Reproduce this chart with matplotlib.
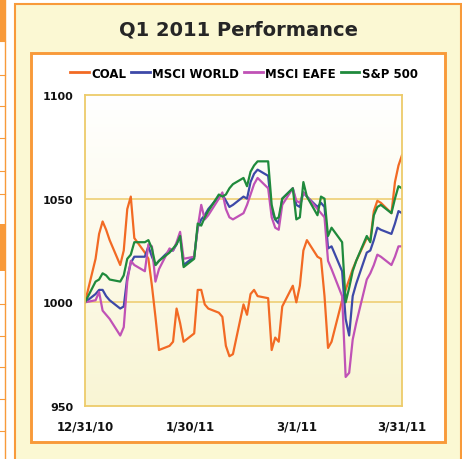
import numpy as np
import pandas as pd
import matplotlib
matplotlib.use("Agg")
import matplotlib.pyplot as plt
from matplotlib.patches import Rectangle
from matplotlib.lines import Line2D
from matplotlib.colors import LinearSegmentedColormap

W, H = 462, 460

# trading days, Q1 2011 (holidays carried at previous value)
dates = pd.bdate_range("2010-12-31", "2011-03-31")

coal = [1000,
        1021, 1033, 1039, 1035, 1030,
        1018, 1025, 1045, 1051, 1031,
        1024, 1021, 1008, 993, 977,
        979, 981, 997, 990, 981,
        985, 1006, 1006, 999, 997,
        995, 993, 979, 974, 975,
        999, 994, 1004, 1006, 1003,
        1002, 977, 983, 981, 998,
        1008, 1000, 1008, 1025, 1030,
        1022, 1021, 1003, 978, 981,
        1001, 1006, 1011, 1016, 1020,
        1031, 1030, 1044, 1049, 1048,
        1043, 1058, 1066, 1071]

msci_world = [1000,
              1004, 1006, 1006, 1003, 1001,
              997, 998, 1012, 1019, 1022,
              1022, 1027, 1022, 1018, 1020,
              1025, 1025, 1028, 1032, 1018,
              1022, 1036, 1040, 1042, 1045,
              1051, 1052, 1049, 1046, 1047,
              1051, 1050, 1058, 1062, 1064,
              1061, 1044, 1040, 1038, 1050,
              1055, 1047, 1046, 1053, 1051,
              1046, 1048, 1046, 1026, 1027,
              1015, 992, 984, 1003, 1009,
              1024, 1025, 1030, 1036, 1035,
              1033, 1038, 1044, 1043]

msci_eafe = [1000,
             1001, 1005, 996, 994, 992,
             984, 988, 1010, 1020, 1018,
             1015, 1028, 1027, 1010, 1016,
             1026, 1025, 1029, 1034, 1021,
             1022, 1036, 1047, 1040, 1042,
             1050, 1053, 1045, 1041, 1040,
             1043, 1047, 1052, 1057, 1060,
             1055, 1041, 1036, 1035, 1047,
             1055, 1049, 1048, 1053, 1051,
             1045, 1043, 1041, 1020, 1016,
             1003, 964, 966, 982, 990,
             1011, 1014, 1018, 1023, 1022,
             1018, 1022, 1027, 1027]

sp500 = [1000,
         1010, 1011, 1014, 1013, 1011,
         1010, 1013, 1021, 1023, 1029,
         1029, 1030, 1026, 1018, 1020,
         1024, 1026, 1028, 1032, 1017,
         1021, 1038, 1037, 1041, 1044,
         1052, 1051, 1052, 1055, 1057,
         1060, 1056, 1063, 1066, 1068,
         1068, 1047, 1040, 1041, 1050,
         1055, 1040, 1041, 1058, 1051,
         1042, 1051, 1050, 1032, 1036,
         1029, 1000, 1007, 1015, 1020,
         1032, 1029, 1042, 1046, 1047,
         1043, 1050, 1056, 1055]

series_names = ["COAL", "MSCI WORLD", "MSCI EAFE", "S&P 500"]
series_colors = ["#F26A24", "#3D49A8", "#C052B6", "#1F8A3C"]

y_ticks = [950, 1000, 1050, 1100]
x_ticks = pd.to_datetime(["2010-12-31", "2011-01-30", "2011-03-01", "2011-03-31"])
x_tick_labels = ["12/31/10", "1/30/11", "3/1/11", "3/31/11"]

ORANGE = "#F89A3A"
GOLD = "#EDCB6A"


def px_rect(fig, x0, y0, x1, y1, **kw):
    # rectangle given in pixel coords measured from the top-left corner
    r = Rectangle((x0 / W, 1 - y1 / H), (x1 - x0) / W, (y1 - y0) / H,
                  transform=fig.transFigure, zorder=-10, **kw)
    fig.patches.append(r)
    return r


def px_line(fig, xs, ys, **kw):
    ln = Line2D([x / W for x in xs], [1 - y / H for y in ys],
                transform=fig.transFigure, zorder=-9, **kw)
    fig.lines.append(ln)
    return ln


def draw_frame(fig):
    # side strip
    px_rect(fig, 0, 0, 5, 42, color=ORANGE, lw=0)
    px_rect(fig, 0, 225, 5, 272, color=ORANGE, lw=0)
    for y in [42, 76, 107, 139, 172, 195, 305, 337, 368, 400, 432]:
        px_line(fig, [0, 5], [y, y], color=ORANGE, lw=0.8)
    px_line(fig, [4.5, 4.5], [0, H], color=ORANGE, lw=1)

    # yellow panel and white card
    px_rect(fig, 15, 5, 461, 470, facecolor="#FBF8D3", edgecolor=ORANGE, lw=1.5)
    px_rect(fig, 31, 54, 445, 443, facecolor="white", edgecolor=ORANGE, lw=2.1)


def plot_chart():
    fig = plt.figure(figsize=(W / 100, H / 100), dpi=100)
    fig.patch.set_facecolor("white")
    draw_frame(fig)

    fig.text(239 / W, 1 - 30 / H, "Q1 2011 Performance", ha="center", va="center",
             fontsize=14, fontweight="bold", color="#262626")

    ax = fig.add_axes([85 / W, 1 - 407 / H, 317 / W, 311 / H])

    grad = np.linspace(0, 1, 256).reshape(-1, 1)
    cmap = LinearSegmentedColormap.from_list("bg", ["#FFFFFF", "#F9F5D4"])
    ax.imshow(grad, extent=(0, 1, 0, 1), transform=ax.transAxes, aspect="auto",
              cmap=cmap, zorder=0)

    for y in [1000, 1050]:
        ax.axhline(y, color=GOLD, lw=1.1, zorder=1)

    data = [coal, msci_world, msci_eafe, sp500]
    order = [2, 1, 3, 0]
    for i in order:
        ax.plot(dates, data[i], color=series_colors[i], lw=1.6,
                zorder=2 + i * 0.1)

    ax.set_xlim(x_ticks[0], x_ticks[-1])
    ax.set_ylim(950, 1100)
    ax.set_yticks(y_ticks)
    ax.set_xticks(x_ticks)
    ax.set_xticklabels(x_tick_labels)
    ax.tick_params(axis="both", length=0, labelsize=8)
    ax.tick_params(axis="y", pad=8.5)
    ax.tick_params(axis="x", pad=10, labelsize=8.5)
    for lab in ax.get_xticklabels() + ax.get_yticklabels():
        lab.set_fontweight("bold")
        lab.set_color("#111111")
    for sp in ax.spines.values():
        sp.set_color(GOLD)
        sp.set_linewidth(1.3)

    leg_handles = [Line2D([], [], color=c, lw=2) for c in series_colors]
    fig.legend(leg_handles, series_names, loc="center",
               bbox_to_anchor=(244 / W, 1 - 74 / H), ncol=4, frameon=False,
               handlelength=1.6, handletextpad=0.2, columnspacing=0.4,
               prop={"weight": "bold", "size": 8.5})

    fig.savefig("out.png", dpi=100)


if __name__ == "__main__":
    plot_chart()
